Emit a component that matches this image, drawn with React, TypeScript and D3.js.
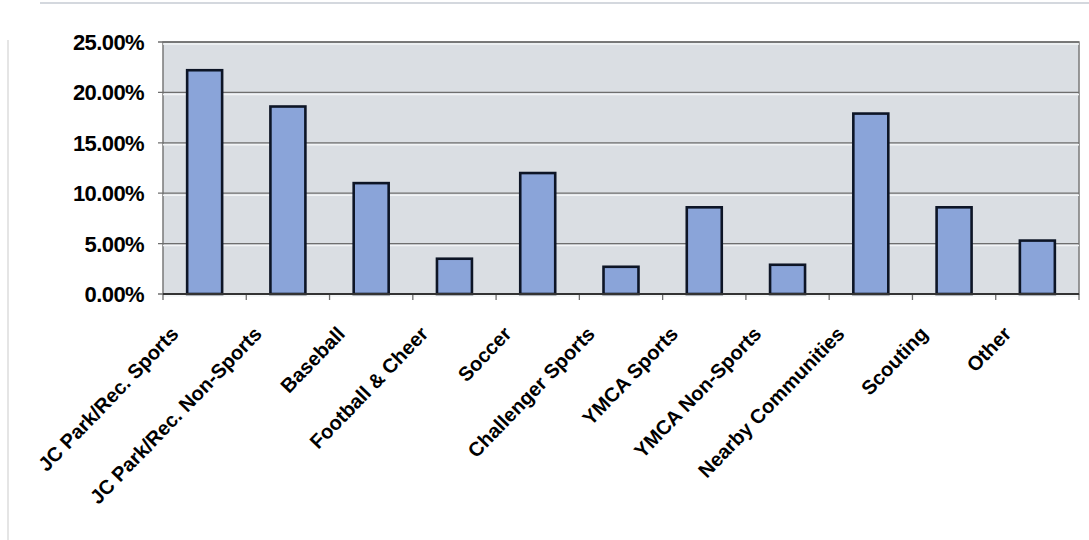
import * as d3 from 'd3';

const categories = [
  'JC Park/Rec. Sports',
  'JC Park/Rec. Non-Sports',
  'Baseball',
  'Football & Cheer',
  'Soccer',
  'Challenger Sports',
  'YMCA Sports',
  'YMCA Non-Sports',
  'Nearby Communities',
  'Scouting',
  'Other',
];
const shares = [22.2, 18.6, 11.0, 3.5, 12.0, 2.7, 8.6, 2.9, 17.9, 8.6, 5.3];
const yTicks = [0, 5, 10, 15, 20, 25];

const W = 1089;
const H = 540;
const left = 163;
const right = 1079;
const top = 42;
const bottom = 294;

export default function App() {
  const x = d3.scaleBand<string>().domain(categories).range([left, right]).paddingInner(0.58).paddingOuter(0.29);
  const band = d3.scaleBand<string>().domain(categories).range([left, right]);
  const y = d3.scaleLinear().domain([0, 25]).range([bottom, top]);
  const font = 'Arial, "Liberation Sans", sans-serif';

  return (
    <svg width={W} height={H} style={{ position: 'absolute', left: 0, top: 0, background: '#fff' }}>
      {/* faint frame remnants */}
      <line x1={40} x2={W} y1={3} y2={3} stroke="#d4d8de" strokeWidth={2} />
      <line x1={8} x2={8} y1={40} y2={H} stroke="#dcdcdc" strokeWidth={1.5} />

      {/* plot area */}
      <rect x={left} y={top} width={right - left} height={bottom - top} fill="#dadee3" stroke="#7a7a7a" strokeWidth={1.5} />

      {/* gridlines */}
      {yTicks.map((t) => (
        <g key={t}>
          <line x1={left} x2={right} y1={y(t) + 2} y2={y(t) + 2} stroke="#f2f4f6" strokeWidth={1.5} />
          <line x1={left - 5} x2={right} y1={y(t)} y2={y(t)} stroke="#6e6e6e" strokeWidth={1.3} />
          <text
            x={144}
            y={y(t)}
            dy="0.36em"
            textAnchor="end"
            fontFamily={font}
            fontWeight="bold"
            fontSize={22}
            letterSpacing={-0.6}
            fill="#000"
          >
            {t.toFixed(2)}%
          </text>
        </g>
      ))}

      {/* category ticks */}
      {categories.map((c) => (
        <line key={c} x1={band(c)!} x2={band(c)!} y1={bottom} y2={bottom + 6} stroke="#6e6e6e" strokeWidth={1.3} />
      ))}
      <line x1={right} x2={right} y1={bottom} y2={bottom + 6} stroke="#6e6e6e" strokeWidth={1.3} />

      {/* bars */}
      {categories.map((c, i) => (
        <rect
          key={c}
          x={x(c)!}
          y={y(shares[i])}
          width={x.bandwidth()}
          height={bottom - y(shares[i])}
          fill="#8aa4d9"
          stroke="#0d1526"
          strokeWidth={2.6}
        />
      ))}

      {/* axis line */}
      <line x1={left} x2={right} y1={bottom} y2={bottom} stroke="#333" strokeWidth={2} />

      {/* category labels */}
      {categories.map((c) => {
        const cx = band(c)! + band.bandwidth() / 2 - 25;
        const cy = bottom + 41;
        return (
          <text
            key={c}
            transform={`translate(${cx},${cy}) rotate(-46)`}
            textAnchor="end"
            fontFamily={font}
            fontWeight="bold"
            fontSize={20}
            fill="#000"
          >
            {c}
          </text>
        );
      })}
    </svg>
  );
}
